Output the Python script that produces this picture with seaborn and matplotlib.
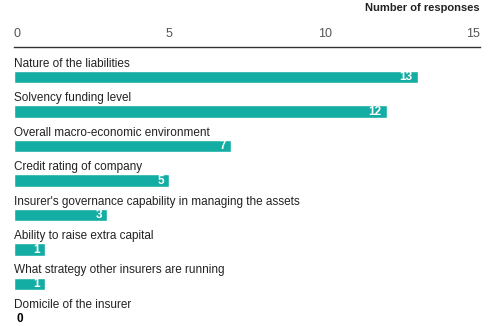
import matplotlib
matplotlib.use("Agg")
import matplotlib.pyplot as plt
import seaborn as sns
import pandas as pd

categories = [
    "Nature of the liabilities",
    "Solvency funding level",
    "Overall macro-economic environment",
    "Credit rating of company",
    "Insurer's governance capability in managing the assets",
    "Ability to raise extra capital",
    "What strategy other insurers are running",
    "Domicile of the insurer",
]
values = [13, 12, 7, 5, 3, 1, 1, 0]
ticks = [0, 5, 10, 15]
axis_title = "Number of responses"

sns.set_theme(style="white")
plt.rcParams["font.family"] = ["Liberation Sans", "DejaVu Sans"]

df = pd.DataFrame({"cat": categories, "val": values})

fig = plt.figure(figsize=(5.0, 3.26), dpi=100)
ax = fig.add_axes([14 / 500, 0.0, (480 - 14) / 500, 1 - 47 / 326])

teal = "#14ADA4"
sns.barplot(data=df, x="val", y="cat", orient="h", color=teal, width=0.36,
            saturation=1, ax=ax)

ax.set_xlim(0, 15)
ax.set_ylim(7.22, -0.87)
ax.set_yticks([])
ax.set_ylabel("")
ax.set_xlabel("")
ax.xaxis.tick_top()
ax.set_xticks(ticks)
ax.set_xticklabels([str(t) for t in ticks])
ax.tick_params(axis="x", length=0, pad=5, labelsize=9, labelcolor="#555555")
for lbl, ha in zip(ax.get_xticklabels(), ["left", "center", "center", "right"]):
    lbl.set_horizontalalignment(ha)
for s in ["right", "bottom", "left"]:
    ax.spines[s].set_visible(False)
ax.spines["top"].set_color("#333333")
ax.spines["top"].set_linewidth(1.0)

for i, (c, v) in enumerate(zip(categories, values)):
    ax.text(0, i - 0.39, c, ha="left", va="center", fontsize=8.5,
            color="#222222")
    if v > 0:
        ax.text(v - 0.17, i + 0.01, str(v), ha="right", va="center",
                fontsize=8.5, color="white", fontweight="bold")
    else:
        ax.text(0.07, i + 0.01, str(v), ha="left", va="center", fontsize=8.5,
                color="black", fontweight="bold")

fig.text(480 / 500, 1 - 8 / 326, axis_title, ha="right", va="center",
         fontsize=8, fontweight="bold", color="#222222")

fig.savefig("out.png", dpi=100)
